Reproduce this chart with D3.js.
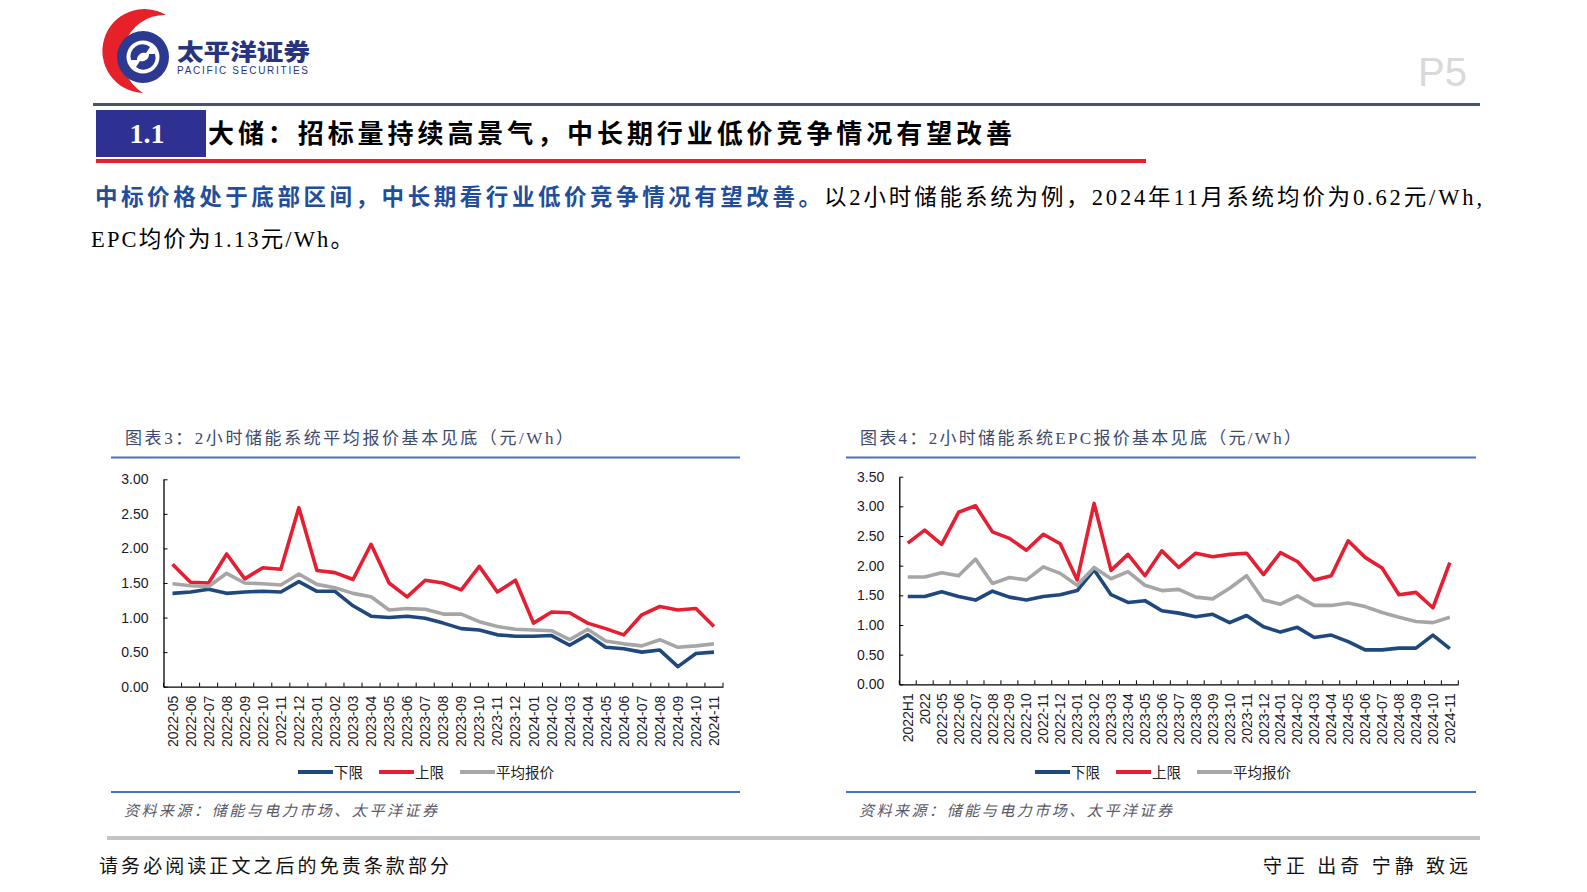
<!DOCTYPE html>
<html><head><meta charset="utf-8">
<script src="https://cdn.jsdelivr.net/npm/d3@7"></script>
<style>
html,body{margin:0;padding:0;background:#fff;}
svg{display:block;}
</style></head>
<body>
<svg id="page" width="1587" height="892"></svg>
<script>
// ---------- DATA ----------
const months3 = ["2022-05","2022-06","2022-07","2022-08","2022-09","2022-10","2022-11","2022-12",
  "2023-01","2023-02","2023-03","2023-04","2023-05","2023-06","2023-07","2023-08","2023-09","2023-10","2023-11","2023-12",
  "2024-01","2024-02","2024-03","2024-04","2024-05","2024-06","2024-07","2024-08","2024-09","2024-10","2024-11"];
const lower3 = [1.35,1.37,1.41,1.35,1.37,1.38,1.37,1.52, 1.38,1.38,1.17,1.02,1.00,1.02,0.99,0.92,0.84,0.82,0.75,0.73, 0.73,0.74,0.60,0.75,0.57,0.55,0.50,0.53,0.29,0.48,0.50];
const upper3 = [1.77,1.51,1.50,1.92,1.56,1.72,1.70,2.59, 1.68,1.65,1.55,2.06,1.50,1.30,1.54,1.50,1.40,1.74,1.37,1.54, 0.92,1.08,1.07,0.92,0.84,0.75,1.04,1.16,1.11,1.13,0.87];
const avg3   = [1.49,1.46,1.45,1.64,1.50,1.49,1.47,1.63, 1.48,1.43,1.35,1.30,1.11,1.13,1.12,1.05,1.05,0.94,0.87,0.83, 0.82,0.81,0.68,0.83,0.66,0.62,0.59,0.68,0.57,0.59,0.62];
const yTicks3 = [0,0.5,1.0,1.5,2.0,2.5,3.0];

const cats4 = ["2022H1","2022","2022-05","2022-06","2022-07","2022-08","2022-09","2022-10","2022-11","2022-12",
  "2023-01","2023-02","2023-03","2023-04","2023-05","2023-06","2023-07","2023-08","2023-09","2023-10","2023-11","2023-12",
  "2024-01","2024-02","2024-03","2024-04","2024-05","2024-06","2024-07","2024-08","2024-09","2024-10","2024-11"];
const lower4 = [1.48,1.48, 1.56,1.48,1.42,1.57,1.47,1.42,1.48,1.51, 1.58,1.93,1.51,1.38,1.41,1.24,1.20,1.14,1.18,1.04,1.16,0.97, 0.88,0.96,0.79,0.83,0.72,0.58,0.58,0.61,0.61,0.83,0.60];
const upper4 = [2.38,2.60, 2.36,2.90,3.01,2.57,2.46,2.26,2.53,2.37, 1.76,3.05,1.92,2.19,1.83,2.25,1.97,2.21,2.15,2.19,2.21,1.85, 2.22,2.07,1.76,1.83,2.42,2.14,1.96,1.51,1.55,1.29,2.05];
const avg4   = [1.81,1.81, 1.88,1.83,2.11,1.70,1.80,1.76,1.98,1.87, 1.67,1.97,1.78,1.90,1.67,1.58,1.60,1.47,1.44,1.62,1.83,1.42, 1.35,1.49,1.33,1.33,1.37,1.31,1.21,1.13,1.06,1.04,1.13];
const yTicks4 = [0,0.5,1.0,1.5,2.0,2.5,3.0,3.5];

const seriesNames = ["下限","上限","平均报价"];
const seriesColors = ["#1f487c","#e61e32","#a6a6a6"];

// ---------- PAGE ----------
const svg = d3.select("#page");
const CJK = "'Noto Sans CJK SC', 'Noto Sans', sans-serif";
const SERIF = "'Liberation Serif', 'Noto Sans CJK SC', serif";
const SANS = "'Liberation Sans', Arial, 'Noto Sans CJK SC', sans-serif";

// logo
const logo = svg.append("g");
logo.append("path")
  .attr("d","M166 15 A42 42 0 1 0 143 93 A42 42 0 0 1 166 15 Z")
  .attr("fill","#e62129");
logo.append("circle").attr("cx",143).attr("cy",57).attr("r",26).attr("fill","#2b3990");
logo.append("circle").attr("cx",143).attr("cy",57).attr("r",16.5).attr("fill","#fff");
logo.append("path").attr("d","M131 60 A12 12 0 0 1 150 47 L146 53 A7 7 0 0 0 137 60 Z").attr("fill","#2b3990");
logo.append("path").attr("d","M155 54 A12 12 0 0 1 136 67 L140 61 A7 7 0 0 0 149 54 Z").attr("fill","#2b3990");
logo.append("text").attr("x",177).attr("y",60).text("太平洋证券")
  .attr("font-family",CJK).attr("font-weight",900).attr("font-size",23)
  .attr("fill","#27357e").attr("textLength",133).attr("lengthAdjust","spacingAndGlyphs");
logo.append("text").attr("x",177).attr("y",73.5).text("PACIFIC SECURITIES")
  .attr("font-family","'Liberation Sans', Arial, sans-serif").attr("font-size",10)
  .attr("fill","#27357e").attr("textLength",131).attr("lengthAdjust","spacing");

// P5
svg.append("text").attr("x",1467).attr("y",86).attr("text-anchor","end").text("P5")
  .attr("font-family","'Liberation Sans', Arial, sans-serif").attr("font-size",40).attr("fill","#d9d9d9");

// header line
svg.append("rect").attr("x",93).attr("y",103).attr("width",1387).attr("height",3).attr("fill","#44546a");

// section title
svg.append("rect").attr("x",96).attr("y",110).attr("width",110).attr("height",47).attr("fill","#2e3192");
svg.append("text").attr("x",147).attr("y",143).attr("text-anchor","middle").text("1.1")
  .attr("font-family",SERIF).attr("font-weight",700).attr("font-size",28).attr("fill","#fff");
svg.append("text").attr("x",208).attr("y",143).text("大储：招标量持续高景气，中长期行业低价竞争情况有望改善")
  .attr("font-family",CJK).attr("font-weight",700).attr("font-size",26).attr("fill","#000")
  .attr("textLength",804).attr("lengthAdjust","spacing");
svg.append("rect").attr("x",96).attr("y",159).attr("width",1050).attr("height",4).attr("fill","#e8202a");

// paragraph
svg.append("text").attr("x",95).attr("y",205).text("中标价格处于底部区间，中长期看行业低价竞争情况有望改善。")
  .attr("font-family",CJK).attr("font-weight",700).attr("font-size",22.5).attr("fill","#1f4e9c")
  .attr("textLength",726).attr("lengthAdjust","spacing");
svg.append("text").attr("x",824).attr("y",205).text("以2小时储能系统为例，2024年11月系统均价为0.62元/Wh,")
  .attr("font-family",SERIF).attr("font-size",22.5).attr("fill","#000")
  .attr("textLength",658).attr("lengthAdjust","spacing");
svg.append("text").attr("x",91).attr("y",247).text("EPC均价为1.13元/Wh。")
  .attr("font-family",SERIF).attr("font-size",22.5).attr("fill","#000")
  .attr("textLength",262).attr("lengthAdjust","spacing");

// ---------- CHART ----------
function drawChart(cfg){
  const g = svg.append("g");
  g.append("text").attr("x",cfg.titleX).attr("y",444).text(cfg.title)
    .attr("font-family",SERIF).attr("font-size",17).attr("fill","#3e4a6b")
    .attr("textLength",cfg.titleLen).attr("lengthAdjust","spacing");
  g.append("rect").attr("x",cfg.boxL).attr("y",456.5).attr("width",cfg.boxR-cfg.boxL).attr("height",2).attr("fill","#4472c4");
  g.append("rect").attr("x",cfg.boxL).attr("y",791).attr("width",cfg.boxR-cfg.boxL).attr("height",2).attr("fill","#4472c4");
  g.append("text").attr("x",cfg.boxL+13).attr("y",816).text("资料来源：储能与电力市场、太平洋证券")
    .attr("font-family",CJK).attr("font-style","italic").attr("font-size",15).attr("fill","#595968")
    .attr("textLength",313).attr("lengthAdjust","spacing");

  const x = d3.scaleBand().domain(cfg.cats).range([cfg.x0,cfg.x1]).padding(0);
  const y = d3.scaleLinear().domain([0,cfg.yMax]).range([cfg.yB,cfg.yT]);

  const ya = g.append("g").attr("transform",`translate(${cfg.x0},0)`)
    .call(d3.axisLeft(y).tickValues(cfg.yTicks).tickFormat(d3.format(".2f")).tickSize(-4).tickSizeOuter(0).tickPadding(15));
  ya.select(".domain").attr("stroke","#000").attr("stroke-width",1.3);
  ya.selectAll(".tick line").attr("stroke","#000");
  ya.selectAll("text").attr("font-family",SANS).attr("font-size",14).attr("fill","#1a1a2a");

  const xa = g.append("g").attr("transform",`translate(0,${cfg.yB})`)
    .call(d3.axisBottom(x).tickSize(0).tickSizeOuter(0));
  xa.select(".domain").attr("stroke","#000").attr("stroke-width",1.3);
  xa.selectAll(".tick text")
    .attr("font-family",SANS).attr("font-size",14).attr("fill","#1a1a2a")
    .attr("transform","rotate(-90)").attr("text-anchor","end")
    .attr("x",-9).attr("y",0).attr("dy","0.36em");
  const bounds = cfg.cats.map(c => x(c)).concat([cfg.x1]);
  g.append("g").selectAll("line").data(bounds).join("line")
    .attr("x1",d=>d).attr("x2",d=>d).attr("y1",cfg.yB).attr("y2",cfg.yB-4)
    .attr("stroke","#000").attr("stroke-width",1);

  const line = d3.line().x((d,i)=>x(cfg.cats[i])+x.bandwidth()/2).y(d=>y(d));
  cfg.series.forEach((s,k)=>{
    g.append("path").datum(s).attr("d",line).attr("fill","none")
      .attr("stroke",seriesColors[k]).attr("stroke-width",3.6).attr("stroke-linejoin","round");
  });

  const lg = g.append("g");
  let lx = cfg.legendX;
  seriesNames.forEach((n,k)=>{
    lg.append("line").attr("x1",lx).attr("x2",lx+35).attr("y1",772).attr("y2",772)
      .attr("stroke",seriesColors[k]).attr("stroke-width",4);
    lg.append("text").attr("x",lx+36).attr("y",777.5).text(n)
      .attr("font-family",CJK).attr("font-size",14.5).attr("fill","#222");
    lx += 81;
  });
}

drawChart({
  title:"图表3：2小时储能系统平均报价基本见底（元/Wh）", titleX:125, titleLen:448,
  boxL:111, boxR:740,
  cats:months3, series:[lower3,upper3,avg3], yTicks:yTicks3, yMax:3.0,
  x0:163.5, x1:723, yT:479.3, yB:686.7, legendX:298
});
drawChart({
  title:"图表4：2小时储能系统EPC报价基本见底（元/Wh）", titleX:860, titleLen:441,
  boxL:846, boxR:1476,
  cats:cats4, series:[lower4,upper4,avg4], yTicks:yTicks4, yMax:3.5,
  x0:899.3, x1:1458.3, yT:476.7, yB:684.3, legendX:1035
});

// footer
svg.append("rect").attr("x",107).attr("y",836).attr("width",1373).attr("height",4).attr("fill","#c4c4c4");
svg.append("text").attr("x",99).attr("y",873).text("请务必阅读正文之后的免责条款部分")
  .attr("font-family",CJK).attr("font-size",19).attr("fill","#111")
  .attr("textLength",350).attr("lengthAdjust","spacing");
svg.append("text").attr("x",1468).attr("y",873).attr("text-anchor","end").text("守正 出奇 宁静 致远")
  .attr("font-family",CJK).attr("font-size",19).attr("fill","#111")
  .attr("textLength",205).attr("lengthAdjust","spacing");
</script>
</body></html>
